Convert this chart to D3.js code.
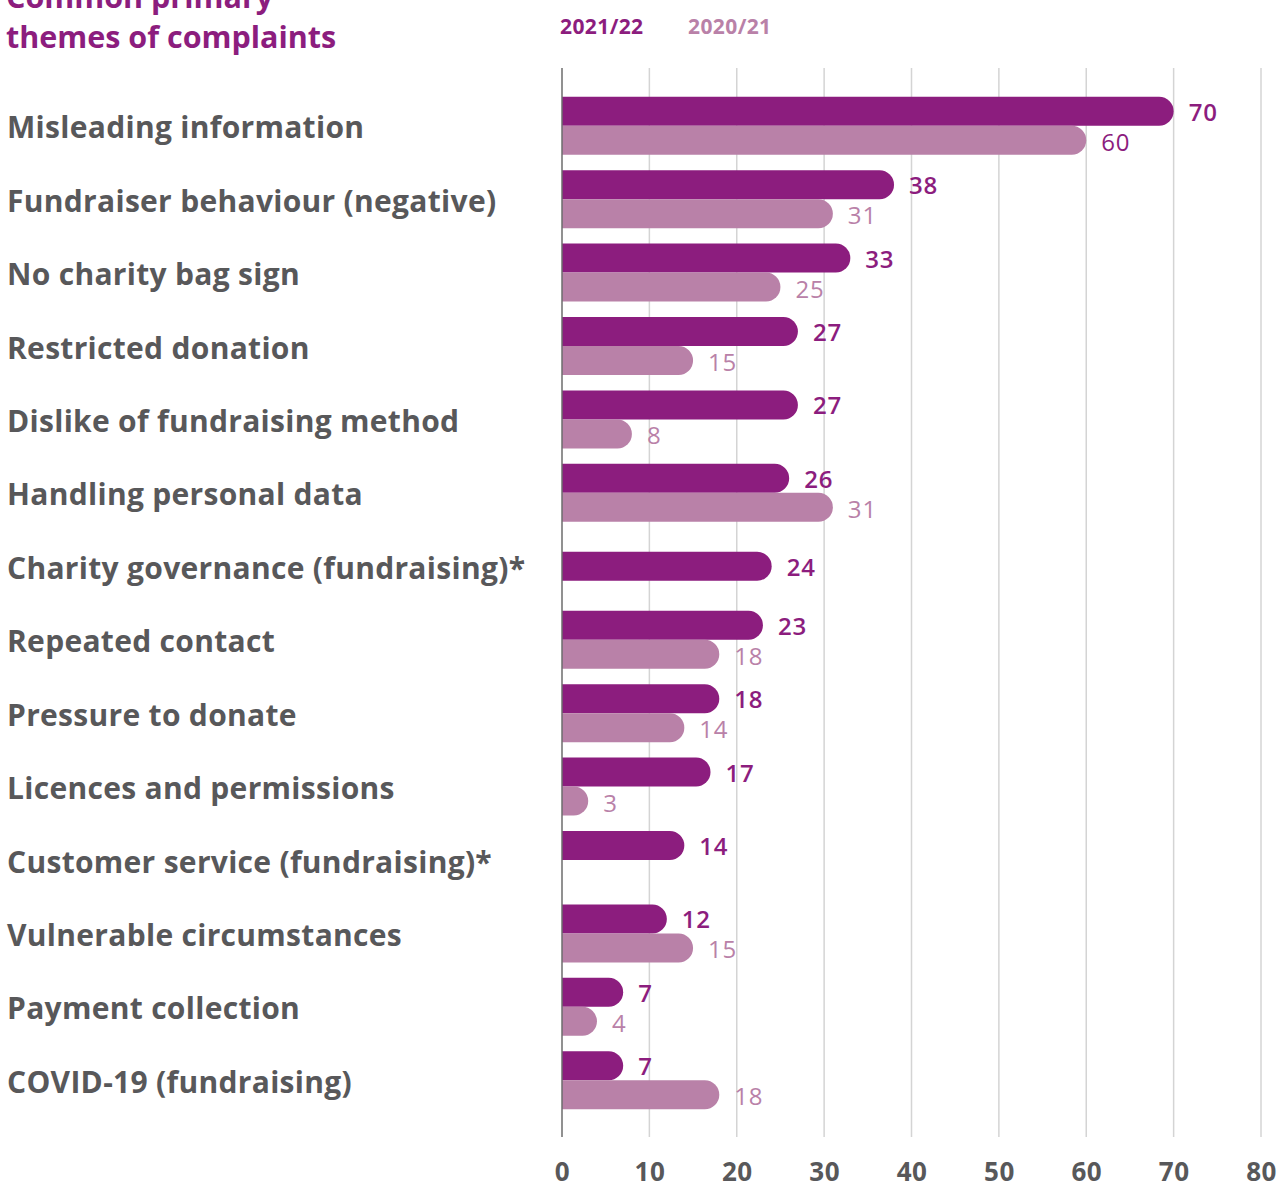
<!DOCTYPE html>
<html>
<head>
<meta charset="utf-8">
<script src="https://cdn.jsdelivr.net/npm/d3@7"></script>
<style>
  html, body { margin: 0; padding: 0; background: #ffffff; }
  svg { display: block; }
</style>
</head>
<body>
<svg id="chart" width="1288" height="1191"></svg>
<script>
// Complaint themes, number of complaints per year
const categories = [
  "Misleading information",
  "Fundraiser behaviour (negative)",
  "No charity bag sign",
  "Restricted donation",
  "Dislike of fundraising method",
  "Handling personal data",
  "Charity governance (fundraising)*",
  "Repeated contact",
  "Pressure to donate",
  "Licences and permissions",
  "Customer service (fundraising)*",
  "Vulnerable circumstances",
  "Payment collection",
  "COVID-19 (fundraising)"
];
const values2122 = [70, 38, 33, 27, 27, 26, 24, 23, 18, 17, 14, 12, 7, 7];
const values2021 = [60, 31, 25, 15, 8, 31, null, 18, 14, 3, 0, 15, 4, 18];
const seriesNames = ["2021/22", "2020/21"];
const xTicks = [0, 10, 20, 30, 40, 50, 60, 70, 80];
const titleLines = ["Common primary", "themes of complaints"];

const DARK = "#8c1d7e";
const LIGHT = "#b981a8";
const GREY = "#58585a";
const FONT = "'Open Sans', sans-serif";

const svg = d3.select("#chart");

const x = d3.scaleLinear().domain([0, 80]).range([562, 1261]);
const y = d3.scaleBand().domain(categories).range([89, 1117])
  .paddingInner(0.21).paddingOuter(0.105);
const barH = y.bandwidth() / 2;

// Title
const title = svg.append("text")
  .attr("fill", DARK)
  .style("font-family", FONT)
  .style("font-weight", 700)
  .style("font-size", "30.5px");
titleLines.forEach((t, i) => {
  title.append("tspan").attr("x", 6).attr("y", 8 + i * 40).text(t);
});

// Legend
const legendX = [560, 688];
seriesNames.forEach((s, i) => {
  svg.append("text")
    .attr("x", legendX[i]).attr("y", 34)
    .attr("fill", i === 0 ? DARK : LIGHT)
    .style("font-family", FONT)
    .style("font-weight", 700)
    .style("font-size", "21px")
    .style("letter-spacing", "0.4px")
    .text(s);
});

// Grid lines
const gridTop = 68, gridBottom = 1137;
svg.append("g").selectAll("line")
  .data(xTicks.filter(d => d > 0))
  .join("line")
  .attr("x1", d => x(d)).attr("x2", d => x(d))
  .attr("y1", gridTop).attr("y2", gridBottom)
  .attr("stroke", "#d4d4d4").attr("stroke-width", 1.5);

// Bottom axis labels
const axis = d3.axisBottom(x).tickValues(xTicks).tickSize(0).tickPadding(0);
const axisG = svg.append("g")
  .attr("transform", `translate(0, ${gridBottom + 26})`)
  .call(axis);
axisG.select(".domain").remove();
axisG.selectAll("text")
  .attr("fill", GREY)
  .style("font-family", FONT)
  .style("font-weight", 700)
  .style("font-size", "26px")
  .style("letter-spacing", "0.5px");

// Category labels
svg.append("g").selectAll("text")
  .data(categories)
  .join("text")
  .attr("x", 7)
  .attr("y", d => y(d) + y.bandwidth() / 2 + 1)
  .attr("dominant-baseline", "central")
  .attr("fill", GREY)
  .style("font-family", FONT)
  .style("font-weight", 700)
  .style("font-size", "30px")
  .style("letter-spacing", "0.3px")
  .text(d => d);

// Bar shape: square at the baseline, round cap at the value end
function barPath(x0, x1, top, h) {
  const r = h / 2;
  const xe = Math.max(x0, x1 - r);
  return `M${x0},${top}H${xe}A${r},${r} 0 0 1 ${xe},${top + h}H${x0}Z`;
}

const rows = categories.map((c, i) => ({
  cat: c, v1: values2122[i], v2: values2021[i]
}));

const bars = [];
rows.forEach(r => {
  const band = y(r.cat);
  if (r.v2 === null) {
    bars.push({ v: r.v1, top: band + barH / 2, color: DARK, series: 0 });
  } else {
    bars.push({ v: r.v1, top: band, color: DARK, series: 0 });
    bars.push({ v: r.v2, top: band + barH, color: LIGHT, series: 1 });
  }
});

svg.append("g").selectAll("path")
  .data(bars.filter(b => b.v > 0))
  .join("path")
  .attr("d", b => barPath(x(0), x(b.v), b.top, barH))
  .attr("fill", b => b.color);

// Value labels
svg.append("g").selectAll("text")
  .data(bars.filter(b => b.v > 0))
  .join("text")
  .attr("x", b => x(b.v) + 15)
  .attr("y", b => b.top + barH / 2 + (b.series === 1 ? 1 : 0))
  .attr("dominant-baseline", "central")
  .attr("fill", (b, i) => (b.series === 0 || i === 1) ? DARK : LIGHT)
  .style("font-family", FONT)
  .style("font-weight", b => b.series === 0 ? 600 : 500)
  .style("font-size", "24px")
  .style("letter-spacing", "0.8px")
  .text(b => b.v);

// Zero axis line
svg.append("line")
  .attr("x1", x(0)).attr("x2", x(0))
  .attr("y1", gridTop).attr("y2", gridBottom)
  .attr("stroke", "#6d6d6d").attr("stroke-width", 1.5);
</script>
</body>
</html>
